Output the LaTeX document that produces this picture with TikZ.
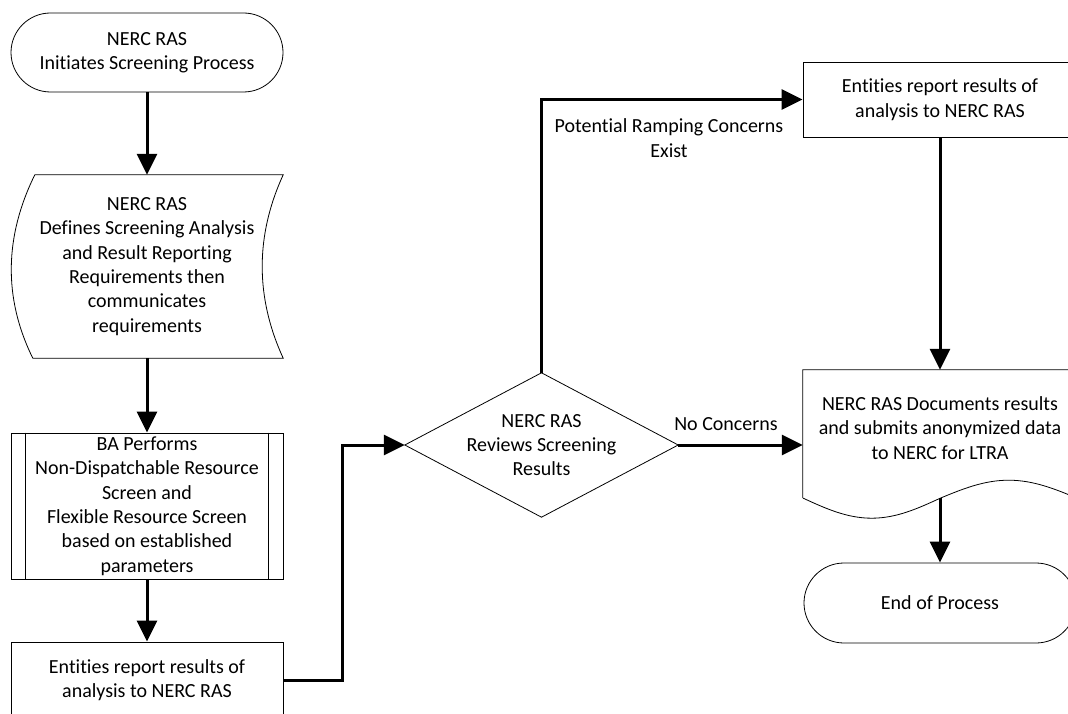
\documentclass[tikz,border=0pt]{standalone}
\usepackage{fontspec}
\setmainfont{Carlito}[Ligatures=CommonOff]
\usetikzlibrary{arrows.meta}

\begin{document}
\begin{tikzpicture}[x=1pt,y=-1pt,
  every node/.style={font=\fontsize{20pt}{24.4pt}\selectfont, align=center, inner sep=0pt},
  box/.style={draw, line width=0.8pt, minimum width=272pt},
  blank/.style={minimum width=272pt},
  outline/.style={line width=0.8pt},
  flow/.style={line width=3pt, -{Triangle[length=21pt,width=20pt]}}]
\useasboundingbox (0,0) rectangle (1068,714);
\clip (0,0) rectangle (1068,714);
\node[box, rounded corners=39.5pt, minimum height=79pt] (start) at (147,52.5) {NERC RAS\\Initiates Screening Process};
\node[blank, minimum height=183pt] (define) at (147,266.5) {NERC RAS\\Defines Screening Analysis\\and Result Reporting\\Requirements then\\communicates\\requirements};
\draw[outline] ([xshift=24pt]define.north west) -- (define.north east)
  .. controls +(-28,61) and +(-28,-61) .. (define.south east)
  -- ([xshift=22pt]define.south west)
  .. controls +(-30,-61) and +(-30,61) .. ([xshift=24pt]define.north west) -- cycle;
\node[box, minimum height=146pt] (screen) at (147,506) {BA Performs\\Non-Dispatchable Resource\\Screen and\\Flexible Resource Screen\\based on established\\parameters};
\draw[outline] ([xshift=15pt]screen.north west) -- ([xshift=15pt]screen.south west)
  ([xshift=-15pt]screen.north east) -- ([xshift=-15pt]screen.south east);
\node[box, minimum height=76pt] (report1) at (147,680) {Entities report results of\\analysis to NERC RAS};
\node[minimum width=273pt, minimum height=144pt] (review) at (541.5,445) {NERC RAS\\Reviews Screening\\Results};
\draw[outline] (review.west) -- (review.north) -- (review.east) -- (review.south) -- cycle;
\node[box, minimum width=274pt, minimum height=75pt] (report2) at (940,99.5) {Entities report results of\\analysis to NERC RAS};
\node[blank, minimum width=274pt, minimum height=116pt] (document) at (940,428) {NERC RAS Documents results\\and submits anonymized data\\to NERC for LTRA};
\coordinate (docbase) at ([yshift=-12pt]document.south);
\draw[outline] ([yshift=-12pt]document.south west) -- (document.north west) -- (document.north east) -- ([yshift=-12pt]document.south east)
  sin +(-68.5,-18) cos +(-68.5,18) sin +(-68.5,20) cos +(-68.5,-20);
\node[box, rounded corners=40pt, minimum height=80pt] (finish) at (940,603) {End of Process};
\node (ramp) at (669,138) {Potential Ramping Concerns\\Exist};
\node (noconcern) at (726,424) {No Concerns};
\draw[flow] (start.south) -- (define.north);
\draw[flow] (define.south) -- (screen.north);
\draw[flow] (screen.south) -- (report1.north);
\draw[flow] (report1.east) -- ++(59,0) |- (review.west);
\draw[flow] (review.north) |- (report2.west);
\draw[flow] (review.east) -- (review.east -| document.west);
\draw[flow] (report2.south) -- (document.north);
\draw[flow] (docbase) -- (finish.north);
\end{tikzpicture}
\end{document}
